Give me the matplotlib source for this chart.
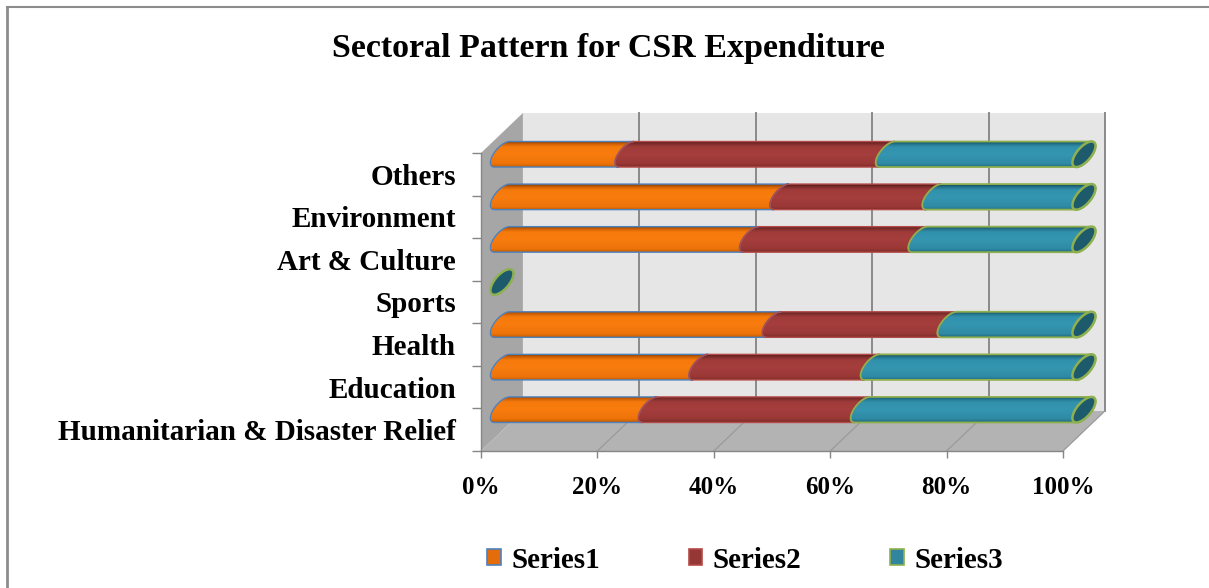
import numpy as np
import matplotlib
matplotlib.use("Agg")
import matplotlib.pyplot as plt
from matplotlib.patches import Polygon, Patch
from matplotlib.colors import LinearSegmentedColormap

plt.rcParams["font.family"] = ["Liberation Serif", "DejaVu Serif"]
plt.rcParams["font.weight"] = "bold"

# data (100% stacked)
categories = ["Humanitarian & Disaster Relief", "Education", "Health", "Sports",
              "Art & Culture", "Environment", "Others"]
series1 = [25.4, 34.1, 46.7, 0, 42.8, 48.0, 21.4]
series2 = [36.5, 29.5, 30.1, 0, 29.0, 26.2, 44.8]
series3 = [38.1, 36.4, 23.2, 0, 28.2, 25.8, 33.8]
series_names = ["Series1", "Series2", "Series3"]
x_ticks = [0, 20, 40, 60, 80, 100]

W, H = 1209, 588
fig = plt.figure(figsize=(W / 100, H / 100), dpi=100)
fig.patch.set_facecolor("white")
# front plane of the fake 3d box
ax = fig.add_axes([481 / W, (H - 451) / H, 582 / W, 298 / H])
ax.patch.set_visible(False)

DX, DY = 7.2, 0.94  # depth of the box in data units
BX, BY = DX / 2, DY / 2  # bars sit half way in
R, SX, EX = 0.3, 1.3, 1.5  # cylinder radius and cap shape


def poly(pts, **kw):
    p = Polygon(pts, closed=True, transform=ax.transData, clip_on=False, **kw)
    ax.add_patch(p)
    return p


# walls and floor
y0, y1 = -0.5, 6.5
poly([(DX, y0 + DY), (100 + DX, y0 + DY), (100 + DX, y1 + DY), (DX, y1 + DY)],
     fc="#e6e6e6", ec="none", zorder=0)
poly([(0, y0), (DX, y0 + DY), (DX, y1 + DY), (0, y1)], fc="#a6a6a6", ec="none", zorder=0.5)
poly([(0, y0), (100, y0), (100 + DX, y0 + DY), (DX, y0 + DY)], fc="#b3b3b3", ec="none", zorder=0.5)
for x in x_ticks[1:]:
    ax.plot([x + DX, x + DX], [y0 + DY, y1 + DY], color="#8a8a8a", lw=1.4, clip_on=False, zorder=1)
    ax.plot([x, x + DX], [y0, y0 + DY], color="#9a9a9a", lw=0.9, clip_on=False, zorder=1)

# cylinder shading, bottom -> top
stops = [0, 0.12, 0.5, 0.78, 0.9, 1.0]
cmaps = [
    LinearSegmentedColormap.from_list("o", list(zip(stops, ["#c45e02", "#ee740a", "#f87c0e", "#f57a0b", "#cf6004", "#7e3a00"]))),
    LinearSegmentedColormap.from_list("r", list(zip(stops, ["#7c2c2a", "#9a3836", "#a53e3d", "#a03b3a", "#7e2e2c", "#4a1817"]))),
    LinearSegmentedColormap.from_list("t", list(zip(stops, ["#226c80", "#2f8aa5", "#3596b2", "#3191ac", "#237189", "#144555"]))),
]
edges = ["#4f81bd", "#b54a48", "#8fb04f"]
legend_face = ["#e46c0a", "#953735", "#31859c"]

t = np.linspace(0, np.pi, 40)
grad = np.linspace(0, 1, 64).reshape(-1, 1)


def half(xc, yc, side):
    # half of the tilted cap ellipse, top -> bottom
    return np.column_stack([xc + side * EX * np.sin(t) + SX * np.cos(t), yc + R * np.cos(t)])


rows = np.array([series1, series2, series3], dtype=float)
for i in range(len(categories)):
    yc = i + BY
    total = rows[:, i].sum()
    end = 0.0
    if total > 0:
        pct = rows[:, i] / total * 100
        left = np.concatenate([[0], np.cumsum(pct)[:-1]])
        segs = [k for k in range(3) if pct[k] > 0]
        for k in segs:
            a, b = left[k] + BX, left[k] + pct[k] + BX
            last = k == segs[-1]
            pts = np.vstack([half(a, yc, -1), half(b, yc, 1 if last else -1)[::-1]])
            im = ax.imshow(grad, cmap=cmaps[k], origin="lower", aspect="auto",
                           extent=[a - SX - EX, b + SX + EX, yc - R, yc + R],
                           interpolation="bilinear", zorder=2)
            p = poly(pts, fc="none", ec=edges[k], lw=1.0 if k < 2 else 1.3, zorder=2.1)
            im.set_clip_path(p)
            im.set_clip_box(fig.bbox)
        end = 100.0
    tt = np.linspace(0, 2 * np.pi, 80)
    cx = end + BX
    poly(np.column_stack([cx + EX * np.sin(tt) + SX * np.cos(tt), yc + R * np.cos(tt)]),
         fc="#1d5b6c", ec="#8fb04f", lw=1.8, zorder=3)

ax.set_xlim(0, 100)
ax.set_ylim(y0, y1)

# axes, ticks
for s in ["top", "right"]:
    ax.spines[s].set_visible(False)
for s in ["left", "bottom"]:
    ax.spines[s].set_color("#868686")
    ax.spines[s].set_linewidth(1.0)
ax.set_xticks(x_ticks)
ax.set_xticklabels([f"{v}%" for v in x_ticks])
ax.tick_params(axis="x", length=5, width=1, color="#868686", pad=13, labelsize=18)
ax.set_yticks(range(len(categories)))
ax.set_yticklabels(categories)
ax.tick_params(axis="y", which="major", length=0, pad=18, labelsize=21)
ax.set_yticks(np.arange(-0.5, len(categories)), minor=True)
ax.tick_params(axis="y", which="minor", length=6.5, width=1, color="#868686")

fig.text(608 / W, 1 - 48 / H, "Sectoral Pattern for CSR Expenditure",
         ha="center", va="center", fontsize=24.5, fontweight="bold")

handles = [Patch(facecolor=legend_face[k], edgecolor=edges[k], lw=1.2) for k in range(3)]
fig.legend(handles, series_names, loc="center", bbox_to_anchor=(745 / W, 1 - 560 / H),
           ncol=3, frameon=False, handlelength=0.47, handleheight=0.47,
           handletextpad=0.35, columnspacing=3.05, prop={"size": 21, "weight": "bold"})

# chart frame (only left and top edges are inside the picture)
fig.add_artist(plt.Line2D([7 / W, 7 / W], [0, 1 - 7 / H], transform=fig.transFigure, color="#8c8c8c", lw=2))
fig.add_artist(plt.Line2D([7 / W, 1], [1 - 7 / H, 1 - 7 / H], transform=fig.transFigure, color="#8c8c8c", lw=1.5))

fig.savefig("out.png", dpi=100)
